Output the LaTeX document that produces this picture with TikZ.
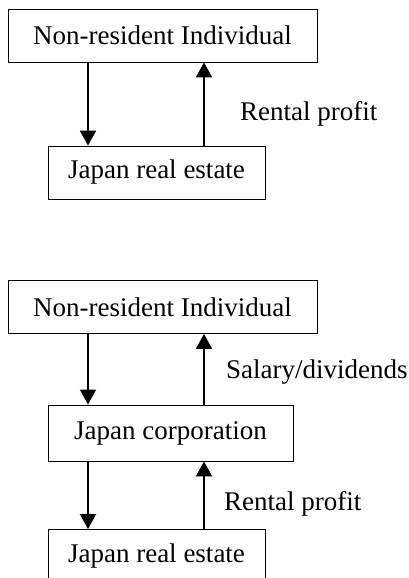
\documentclass[tikz,border=0pt]{standalone}
\usepackage{fontspec}
\setmainfont{Liberation Serif}
\usetikzlibrary{arrows.meta}
\tikzset{
    raw box/.style={rectangle, draw, black, line width=0.9pt, inner sep=0pt, align=center, font=\fontsize{27}{31}\selectfont},
    wide box/.style={raw box, minimum width=309pt, minimum height=53pt},
    mid box/.style={raw box, minimum width=245pt, minimum height=56pt},
    small box/.style={raw box, minimum width=217pt, minimum height=53pt},
    flow label/.style={anchor=base west, inner sep=0pt, font=\fontsize{27}{31}\selectfont},
    flow/.style={line width=2pt, -{Triangle[width=16pt,length=15pt]}}
}
\begin{document}
\begin{tikzpicture}[x=1pt,y=-1pt]
	\useasboundingbox (0,0) rectangle (408,578);
	\coordinate (xleft) at (88,0);
	\coordinate (xright) at (204,0);
	% first structure: direct holding
	\node[wide box](indiv1) at (162.5,35.5){Non-resident Individual};
	\node[small box](estate1) at (156.5,172.5){Japan real estate};
	\draw[flow] (indiv1.south -| xleft) -- (estate1.north -| xleft);
	\draw[flow] (estate1.north -| xright) -- (indiv1.south -| xright);
	\node[flow label](rent1) at (240,120){Rental profit};
	
	% second structure: through a corporation
	\node[wide box](indiv2) at (162.5,307){Non-resident Individual};
	\node[mid box](corp) at (170.5,433){Japan corporation};
	\node[small box](estate2) at (156.5,556){Japan real estate};
	\draw[flow] (indiv2.south -| xleft) -- (corp.north -| xleft);
	\draw[flow] (corp.north -| xright) -- (indiv2.south -| xright);
	\node[flow label](salary) at (226,378){Salary/dividends};
	\draw[flow] (corp.south -| xleft) -- (estate2.north -| xleft);
	\draw[flow] (estate2.north -| xright) -- (corp.south -| xright);
	\node[flow label](rent2) at (224,510){Rental profit};
\end{tikzpicture}
\end{document}
